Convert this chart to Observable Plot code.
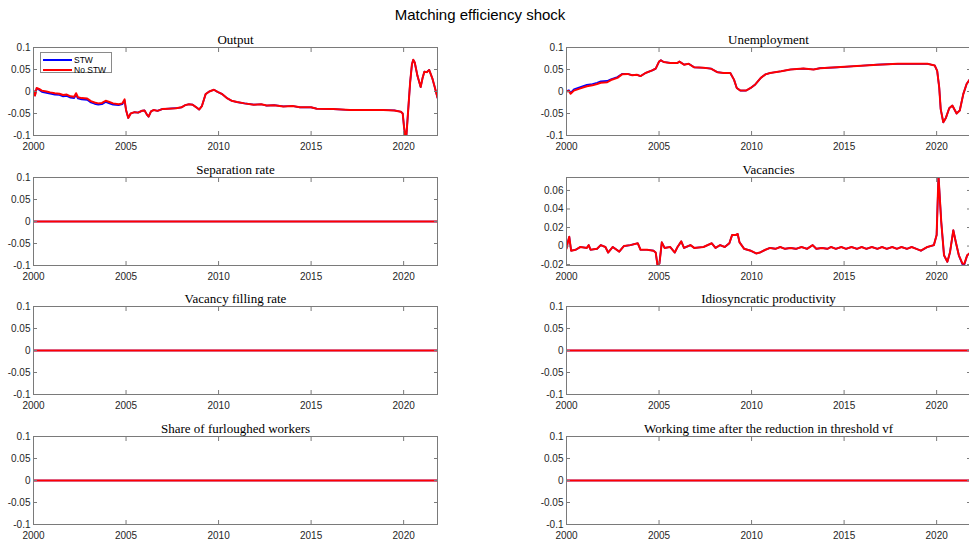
<!DOCTYPE html>
<html><head><meta charset="utf-8">
<script src="https://cdn.jsdelivr.net/npm/d3@7"></script>
<script src="https://cdn.jsdelivr.net/npm/@observablehq/plot@0.6"></script>
<style>
body{margin:0;background:#fff;overflow:hidden}
#chart{position:relative;width:969px;height:547px;overflow:hidden;background:#fff}
.panel{position:absolute}
#title{position:absolute;left:0;width:960px;top:6px;text-align:center;font:15px "Liberation Sans",Arial,sans-serif;color:#000}
#legend{position:absolute;left:40px;top:52px;width:70px;height:19px;border:1px solid #8a8a8a;background:#fff;font:8.5px "Liberation Sans",Arial,sans-serif;color:#000}
#legend .ln{position:absolute;left:2px;width:29px;height:2px}
#legend .lb{position:absolute;left:33px;line-height:10px}
</style></head><body>
<div id="chart"><div id="title">Matching efficiency shock</div></div>
<script>
// ---- data ----
const xTicks = [2000, 2005, 2010, 2015, 2020];
const xDomain = [2000, 2021.83];
const yTicksStd = [-0.1, -0.05, 0, 0.05, 0.1];
const yTicksVac = [-0.02, 0, 0.02, 0.04, 0.06];
const seriesNames = ["STW", "No STW"];

const outYears = [2000.00,2000.08,2000.17,2000.30,2000.45,2000.70,2000.90,2001.15,2001.40,2001.60,2001.80,2002.00,2002.20,2002.30,2002.40,2002.60,2002.90,2003.10,2003.30,2003.50,2003.70,2003.90,2004.10,2004.30,2004.60,2004.80,2004.92,2005.00,2005.12,2005.25,2005.45,2005.65,2005.85,2006.00,2006.12,2006.22,2006.35,2006.50,2006.70,2006.95,2007.30,2007.70,2008.00,2008.20,2008.40,2008.60,2008.80,2008.95,2009.10,2009.30,2009.50,2009.75,2009.95,2010.20,2010.45,2010.70,2011.00,2011.40,2011.90,2012.30,2012.60,2013.00,2013.50,2014.00,2014.40,2015.00,2015.30,2016.20,2017.10,2018.00,2018.90,2019.50,2019.85,2019.95,2020.02,2020.10,2020.15,2020.25,2020.35,2020.45,2020.52,2020.60,2020.75,2020.92,2021.02,2021.12,2021.25,2021.38,2021.55,2021.68,2021.83];
const outNoSTW = [0.002,-0.009,0.008,0.006,0.002,0.000,-0.002,-0.004,-0.005,-0.008,-0.007,-0.011,-0.012,-0.004,-0.013,-0.015,-0.016,-0.022,-0.025,-0.027,-0.026,-0.021,-0.024,-0.027,-0.029,-0.027,-0.018,-0.042,-0.060,-0.050,-0.047,-0.048,-0.044,-0.043,-0.052,-0.057,-0.045,-0.042,-0.044,-0.040,-0.039,-0.038,-0.036,-0.031,-0.029,-0.030,-0.036,-0.041,-0.033,-0.006,0.000,0.004,-0.001,-0.006,-0.015,-0.021,-0.024,-0.027,-0.030,-0.029,-0.032,-0.031,-0.034,-0.033,-0.036,-0.036,-0.039,-0.040,-0.042,-0.042,-0.042,-0.043,-0.046,-0.050,-0.080,-0.106,-0.100,-0.040,0.020,0.062,0.072,0.066,0.035,0.010,0.030,0.045,0.044,0.049,0.030,0.010,-0.014];
const outSTW = [0.002,-0.009,0.007,0.004,-0.001,-0.003,-0.005,-0.007,-0.008,-0.011,-0.010,-0.014,-0.015,-0.007,-0.016,-0.018,-0.019,-0.025,-0.028,-0.030,-0.029,-0.024,-0.027,-0.030,-0.031,-0.029,-0.020,-0.042,-0.060,-0.050,-0.047,-0.048,-0.044,-0.043,-0.052,-0.057,-0.045,-0.042,-0.044,-0.040,-0.039,-0.038,-0.036,-0.031,-0.029,-0.030,-0.036,-0.041,-0.033,-0.006,0.000,0.004,-0.001,-0.006,-0.015,-0.021,-0.024,-0.027,-0.030,-0.029,-0.032,-0.031,-0.034,-0.033,-0.036,-0.036,-0.039,-0.040,-0.042,-0.042,-0.042,-0.043,-0.046,-0.050,-0.080,-0.106,-0.100,-0.040,0.020,0.062,0.072,0.066,0.035,0.010,0.030,0.045,0.044,0.049,0.030,0.010,-0.014];

const unYears = [2000.00,2000.13,2000.22,2000.40,2000.75,2001.10,2001.40,2001.65,2001.85,2002.20,2002.40,2002.75,2003.00,2003.30,2003.55,2003.80,2004.00,2004.27,2004.63,2004.82,2005.00,2005.10,2005.25,2005.60,2006.00,2006.10,2006.35,2006.60,2006.90,2007.40,2007.80,2008.15,2008.50,2008.85,2009.05,2009.20,2009.40,2009.70,2009.95,2010.20,2010.50,2010.75,2011.00,2011.60,2012.10,2012.80,2013.35,2013.70,2014.60,2015.70,2016.80,2017.90,2018.95,2019.50,2019.90,2020.03,2020.14,2020.22,2020.36,2020.50,2020.68,2020.85,2021.08,2021.25,2021.44,2021.62,2021.83];
const unNoSTW = [0.000,0.001,-0.005,0.002,0.007,0.012,0.014,0.017,0.020,0.021,0.026,0.031,0.039,0.040,0.037,0.038,0.035,0.042,0.048,0.052,0.068,0.071,0.067,0.065,0.065,0.068,0.061,0.063,0.055,0.054,0.052,0.044,0.042,0.042,0.027,0.008,0.002,0.002,0.008,0.016,0.031,0.039,0.042,0.046,0.050,0.052,0.050,0.053,0.055,0.058,0.061,0.063,0.063,0.063,0.059,0.047,0.009,-0.040,-0.070,-0.060,-0.038,-0.032,-0.050,-0.043,-0.006,0.017,0.030];
const unSTW = [0.001,0.003,-0.003,0.005,0.010,0.015,0.017,0.020,0.023,0.024,0.028,0.033,0.040,0.040,0.037,0.038,0.035,0.042,0.048,0.052,0.068,0.071,0.067,0.065,0.065,0.068,0.061,0.063,0.055,0.054,0.052,0.044,0.042,0.042,0.027,0.008,0.002,0.002,0.008,0.016,0.031,0.039,0.042,0.046,0.050,0.052,0.050,0.053,0.055,0.058,0.061,0.063,0.063,0.063,0.059,0.047,0.009,-0.040,-0.070,-0.060,-0.038,-0.032,-0.050,-0.043,-0.006,0.017,0.030];

const vacYears = [2000.00,2000.07,2000.15,2000.25,2000.50,2000.75,2001.10,2001.20,2001.30,2001.65,2001.85,2002.10,2002.25,2002.50,2002.85,2003.10,2003.45,2003.85,2004.00,2004.35,2004.70,2004.82,2004.92,2005.02,2005.15,2005.30,2005.60,2005.85,2006.00,2006.20,2006.35,2006.70,2006.90,2007.40,2007.85,2008.05,2008.30,2008.55,2008.80,2008.95,2009.15,2009.25,2009.35,2009.60,2009.95,2010.25,2010.45,2010.75,2011.00,2011.30,2011.55,2011.80,2012.10,2012.40,2012.70,2013.00,2013.30,2013.50,2013.80,2014.10,2014.30,2014.55,2014.85,2015.10,2015.40,2015.70,2015.95,2016.20,2016.50,2016.80,2017.05,2017.30,2017.60,2017.85,2018.10,2018.40,2018.65,2018.90,2019.15,2019.50,2019.85,2020.00,2020.10,2020.25,2020.40,2020.58,2020.72,2020.90,2021.05,2021.20,2021.40,2021.50,2021.65,2021.83];
const vacNoSTW = [-0.003,0.004,0.010,-0.005,-0.004,-0.001,-0.002,0.001,-0.004,-0.003,0.001,-0.001,-0.007,-0.001,-0.006,0.000,0.001,0.003,-0.004,-0.004,-0.005,-0.007,-0.021,-0.019,0.004,-0.002,-0.001,-0.007,-0.001,0.005,-0.002,0.001,-0.002,-0.001,0.003,-0.002,0.001,-0.001,0.003,0.012,0.012,0.013,0.004,-0.003,-0.005,-0.008,-0.007,-0.004,-0.002,-0.003,-0.001,-0.003,-0.002,-0.003,-0.001,-0.003,0.001,-0.003,-0.002,-0.003,-0.001,-0.003,-0.001,-0.003,-0.001,-0.003,-0.001,-0.003,-0.001,-0.003,-0.001,-0.003,-0.001,-0.003,-0.001,-0.003,-0.001,-0.003,-0.005,-0.001,0.001,0.012,0.076,0.026,-0.010,-0.017,-0.007,0.017,0.003,-0.010,-0.019,-0.019,-0.010,-0.007];
const vacSTW = [-0.002,0.004,0.010,-0.005,-0.004,-0.001,-0.002,0.001,-0.004,-0.003,0.001,-0.001,-0.007,-0.001,-0.006,0.000,0.001,0.003,-0.004,-0.004,-0.005,-0.007,-0.021,-0.019,0.004,-0.002,-0.001,-0.007,-0.001,0.005,-0.002,0.001,-0.002,-0.001,0.003,-0.002,0.001,-0.001,0.003,0.012,0.012,0.013,0.004,-0.003,-0.005,-0.008,-0.007,-0.004,-0.002,-0.003,-0.001,-0.003,-0.002,-0.003,-0.001,-0.003,0.001,-0.003,-0.002,-0.003,-0.001,-0.003,-0.001,-0.003,-0.001,-0.003,-0.001,-0.003,-0.001,-0.003,-0.001,-0.003,-0.001,-0.003,-0.001,-0.003,-0.001,-0.003,-0.005,-0.001,0.001,0.012,0.076,0.026,-0.010,-0.017,-0.007,0.017,0.003,-0.010,-0.020,-0.020,-0.010,-0.007];

const flatYears = [2000.00, 2021.83];
const flatNoSTW = [0, 0];
const flatSTW = [0, 0];

const panels = [
  {title: "Output", years: outYears, stw: outSTW, no: outNoSTW, col: 0, row: 0, yDomain: [-0.1, 0.1], yTicks: yTicksStd},
  {title: "Unemployment", years: unYears, stw: unSTW, no: unNoSTW, col: 1, row: 0, yDomain: [-0.1, 0.1], yTicks: yTicksStd},
  {title: "Separation rate", years: flatYears, stw: flatSTW, no: flatNoSTW, col: 0, row: 1, yDomain: [-0.1, 0.1], yTicks: yTicksStd},
  {title: "Vacancies", years: vacYears, stw: vacSTW, no: vacNoSTW, col: 1, row: 1, yDomain: [-0.021, 0.074], yTicks: yTicksVac},
  {title: "Vacancy filling rate", years: flatYears, stw: flatSTW, no: flatNoSTW, col: 0, row: 2, yDomain: [-0.1, 0.1], yTicks: yTicksStd},
  {title: "Idiosyncratic productivity", years: flatYears, stw: flatSTW, no: flatNoSTW, col: 1, row: 2, yDomain: [-0.1, 0.1], yTicks: yTicksStd},
  {title: "Share of furloughed workers", years: flatYears, stw: flatSTW, no: flatNoSTW, col: 0, row: 3, yDomain: [-0.1, 0.1], yTicks: yTicksStd},
  {title: "Working time after the reduction in threshold vf", years: flatYears, stw: flatSTW, no: flatNoSTW, col: 1, row: 3, yDomain: [-0.1, 0.1], yTicks: yTicksStd}
];

// ---- drawing ----
const chart = document.getElementById("chart");
const axisGray = "#7a7a7a";
const textCol = "#262626";

for (const p of panels) {
  const left = p.col === 0 ? 0 : 530;
  const mL = p.col === 0 ? 33 : 36;
  const plotW = 404, mR = 10;
  const mT = 24, plotH = 88, mB = 24;
  const plotTop = 47 + p.row * 129.6;
  const data = p.years.map((x, i) => ({x, stw: p.stw[i], no: p.no[i]}));
  const svg = Plot.plot({
    width: mL + plotW + mR,
    height: mT + plotH + mB,
    marginLeft: mL, marginRight: mR, marginTop: mT, marginBottom: mB,
    style: {fontFamily: "'Liberation Sans', Arial, sans-serif", fontSize: "10px", color: textCol, background: "transparent", overflow: "visible"},
    x: {domain: xDomain},
    y: {domain: p.yDomain},
    marks: [
      Plot.line(data, {x: "x", y: "stw", stroke: "#0000ff", strokeWidth: 1.7, clip: true}),
      Plot.line(data, {x: "x", y: "no", stroke: "#ff0000", strokeWidth: 2, clip: true}),
      Plot.frame({stroke: axisGray, strokeWidth: 1}),
      Plot.axisY(p.yTicks, {anchor: "left", tickSize: -4, tickPadding: 7, stroke: axisGray, fill: textCol, tickFormat: d => String(d), label: null}),
      Plot.axisY(p.yTicks, {anchor: "right", tickSize: -4, stroke: axisGray, tickFormat: () => "", label: null}),
      Plot.axisX(xTicks, {anchor: "bottom", tickSize: -4, tickPadding: 11, stroke: axisGray, fill: textCol, tickFormat: d => String(d), label: null}),
      Plot.axisX(xTicks, {anchor: "top", tickSize: -4, stroke: axisGray, tickFormat: () => "", label: null}),
      Plot.text([p.title], {frameAnchor: "top", lineAnchor: "middle", dy: -8, text: d => d, fontFamily: "'Liberation Serif', 'DejaVu Serif', serif", fontSize: 13, fill: "#000"})
    ]
  });
  svg.classList.add("panel");
  svg.style.left = left + "px";
  svg.style.top = (plotTop - mT) + "px";
  chart.appendChild(svg);
}

// legend (Output panel)
const lg = document.createElement("div");
lg.id = "legend";
const colors = ["#0000ff", "#ff0000"];
seriesNames.forEach((name, i) => {
  const ln = document.createElement("div");
  ln.className = "ln";
  ln.style.top = (6 + i * 10.3) + "px";
  ln.style.background = colors[i];
  const lb = document.createElement("div");
  lb.className = "lb";
  lb.style.top = (2 + i * 10.3) + "px";
  lb.textContent = name;
  lg.appendChild(ln);
  lg.appendChild(lb);
});
chart.appendChild(lg);
</script>
</body></html>
